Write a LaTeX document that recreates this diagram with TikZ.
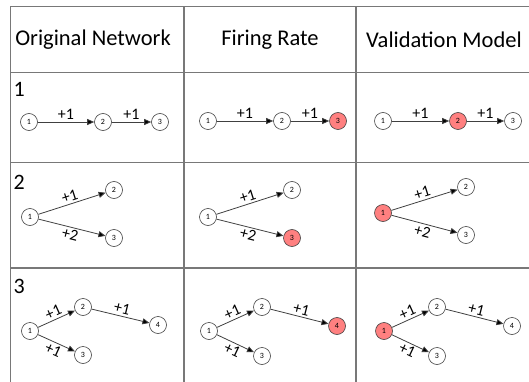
\documentclass[tikz,border=0pt]{standalone}
\usepackage{fontspec}
\setmainfont{Carlito}
\usepackage{tikz}
\usetikzlibrary{arrows.meta}
\definecolor{firered}{RGB}{255,128,128}
\definecolor{gridgray}{RGB}{120,120,120}
\tikzset{
x=1pt, y=-1pt, % one unit is one pixel of the table, y runs down
-{Triangle[length=7pt, width=6pt]}, % makes the edges directed
neuron/.style={-, circle, draw=black!75, fill=white, line width=0.6pt, minimum size=17pt, inner sep=0pt, font=\fontsize{8}{8}\selectfont}, % a plain neuron
fired/.style={neuron, fill=firered}, % the neuron that is picked
synapse/.style={draw=black!75, line width=0.8pt}, % sets the look of each edge
weight/.style={font=\fontsize{16}{16}\selectfont, inner sep=2pt, sloped}, % the text on an edge
gridline/.style={-, draw=gridgray, line width=1pt}, % lines of the table
header/.style={font=\fontsize{22.5}{22.5}\selectfont}, % column titles
rowno/.style={font=\fontsize{22}{22}\selectfont, anchor=west}, % row numbers
}

\begin{document}
\begin{tikzpicture}
                \useasboundingbox (0,0) rectangle (529,382);
                % table
                \draw[gridline] (10,7) -- (529,7);
                \draw[gridline] (10,73) -- (529,73);
                \draw[gridline] (10,162) -- (529,162);
                \draw[gridline, line width=1.4pt] (10,268) -- (529,268);
                \draw[gridline] (10,7) -- (10,382);
                \draw[gridline, line width=1.8pt] (184,7) -- (184,382);
                \draw[gridline, line width=1.8pt] (356,7) -- (356,382);

                \node[header] (h_orig) at (93,40) {Original Network};
                \node[header] (h_rate) at (270,40) {Firing Rate};
                \node[header] (h_val) at (444,40) {Validation Model};

                \node[rowno] (r1) at (10,89) {1};
                \node[rowno] (r2) at (10,182) {2};
                \node[rowno] (r3) at (10,286) {3};

                % row 1
                \node[neuron] (a1_n1) at (29,122) {1};
                \node[neuron] (a1_n2) at (103,122) {2};
                \node[neuron] (a1_n3) at (160,122) {3};

                \node[neuron] (b1_n1) at (208,121) {1};
                \node[neuron] (b1_n2) at (282,121) {2};
                \node[fired] (b1_n3) at (338,121) {3};

                \node[neuron] (c1_n1) at (383,121) {1};
                \node[fired] (c1_n2) at (458,121) {2};
                \node[neuron] (c1_n3) at (513,121) {3};

                % row 2
                \node[neuron] (a2_n1) at (30,217) {1};
                \node[neuron] (a2_n2) at (114,190) {2};
                \node[neuron] (a2_n3) at (114,238) {3};

                \node[neuron] (b2_n1) at (208,217) {1};
                \node[neuron] (b2_n2) at (292,190) {2};
                \node[fired] (b2_n3) at (292,238) {3};

                \node[fired] (c2_n1) at (383,213) {1};
                \node[neuron] (c2_n2) at (466,187) {2};
                \node[neuron] (c2_n3) at (466,235) {3};

                % row 3
                \node[neuron] (a3_n1) at (30,331) {1};
                \node[neuron] (a3_n2) at (83,307) {2};
                \node[neuron] (a3_n3) at (83,355) {3};
                \node[neuron] (a3_n4) at (158,325) {4};

                \node[neuron] (b3_n1) at (209,331) {1};
                \node[neuron] (b3_n2) at (262,307) {2};
                \node[neuron] (b3_n3) at (262,356) {3};
                \node[fired] (b3_n4) at (337,326) {4};

                \node[fired] (c3_n1) at (384,331) {1};
                \node[neuron] (c3_n2) at (437,307) {2};
                \node[neuron] (c3_n3) at (437,356) {3};
                \node[neuron] (c3_n4) at (512,326) {4};

                \draw[synapse]
                    (a1_n1) edge node[weight, above]{+1} (a1_n2)
                    (a1_n2) edge node[weight, above]{+1} (a1_n3)
                    (b1_n1) edge node[weight, above]{+1} (b1_n2)
                    (b1_n2) edge node[weight, above]{+1} (b1_n3)
                    (c1_n1) edge node[weight, above]{+1} (c1_n2)
                    (c1_n2) edge node[weight, above]{+1} (c1_n3)
                    %
                    (a2_n1) edge node[weight, above]{+1} (a2_n2)
                    (a2_n1) edge node[weight, below]{+2} (a2_n3)
                    (b2_n1) edge node[weight, above]{+1} (b2_n2)
                    (b2_n1) edge node[weight, below]{+2} (b2_n3)
                    (c2_n1) edge node[weight, above]{+1} (c2_n2)
                    (c2_n1) edge node[weight, below]{+2} (c2_n3)
                    %
                    (a3_n1) edge node[weight, above]{+1} (a3_n2)
                    (a3_n1) edge node[weight, below]{+1} (a3_n3)
                    (a3_n2) edge node[weight, above]{+1} (a3_n4)
                    (b3_n1) edge node[weight, above]{+1} (b3_n2)
                    (b3_n1) edge node[weight, below]{+1} (b3_n3)
                    (b3_n2) edge node[weight, above]{+1} (b3_n4)
                    (c3_n1) edge node[weight, above]{+1} (c3_n2)
                    (c3_n1) edge node[weight, below]{+1} (c3_n3)
                    (c3_n2) edge node[weight, above]{+1} (c3_n4)
                    ;
\end{tikzpicture}
\end{document}
